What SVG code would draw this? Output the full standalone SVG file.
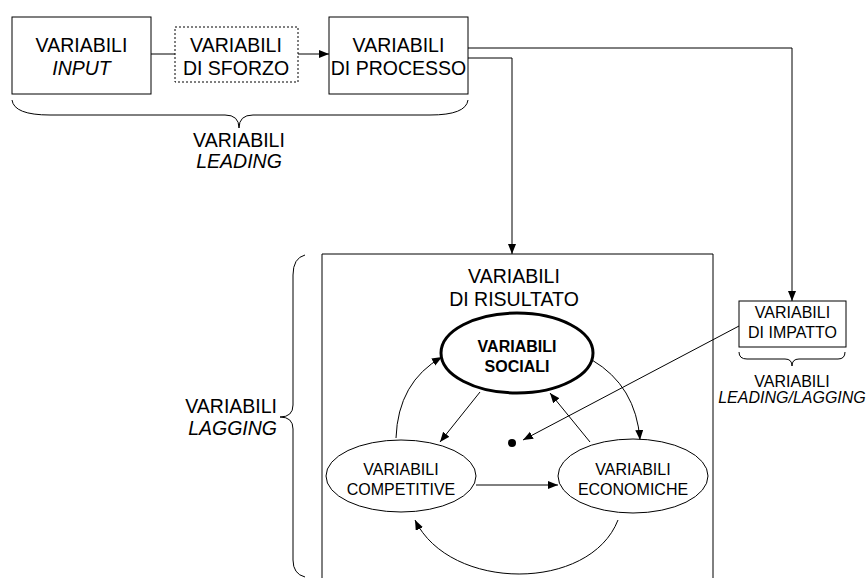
<svg xmlns="http://www.w3.org/2000/svg" width="868" height="578" viewBox="0 0 868 578">
<style>
text{font-family:"Liberation Sans",Arial,sans-serif;fill:#000;text-anchor:middle}
.big{font-size:19.5px}
.sm{font-size:16px}
.it{font-style:italic}
.b{font-weight:bold}
.box{fill:#fff;stroke:#000;stroke-width:1}
.ln{fill:none;stroke:#000;stroke-width:1}
</style>
<defs>
<marker id="ah" markerUnits="userSpaceOnUse" markerWidth="11" markerHeight="9" refX="10" refY="4" orient="auto">
<path d="M0,0 L10,4 L0,8 z" fill="#000"/>
</marker>
</defs>
<rect width="868" height="578" fill="#fff"/>

<g id="connectors">
<line class="ln" x1="151" y1="54" x2="175" y2="54"/>
<line class="ln" x1="297" y1="54" x2="329" y2="54" marker-end="url(#ah)"/>
<polyline class="ln" points="468,48 792,48 792,301" marker-end="url(#ah)"/>
<polyline class="ln" points="468,58 512,58 512,254" marker-end="url(#ah)"/>
<line class="ln" x1="739" y1="326" x2="523" y2="440" marker-end="url(#ah)"/>
<line class="ln" x1="480" y1="392" x2="440" y2="442" marker-end="url(#ah)"/>
<line class="ln" x1="590" y1="442" x2="550" y2="393" marker-end="url(#ah)"/>
<line class="ln" x1="476" y1="485" x2="558" y2="485" marker-end="url(#ah)"/>
<path class="ln" d="M396,438 Q398,382 442,357" marker-end="url(#ah)"/>
<path class="ln" d="M592,360 Q636,386 640,440" marker-end="url(#ah)"/>
<path class="ln" d="M618,520 C590,592 450,592 415,520" marker-end="url(#ah)"/>
</g>

<g id="input">
<rect class="box" x="12" y="17" width="139" height="77"/>
<text class="big" x="81.5" y="52">VARIABILI</text>
<text class="big it" x="81.5" y="75">INPUT</text>
</g>
<g id="sforzo">
<rect class="box" x="175" y="27" width="123" height="55" stroke-dasharray="2,2"/>
<text class="big" x="236" y="52">VARIABILI</text>
<text class="big" x="236" y="75">DI SFORZO</text>
</g>
<g id="processo">
<rect class="box" x="329" y="17" width="139" height="77"/>
<text class="big" x="398.5" y="52">VARIABILI</text>
<text class="big" x="398.5" y="75">DI PROCESSO</text>
</g>

<g id="leading">
<path class="ln" d="M12,100 Q14,115 50,115 L225,115 Q239,115 239,128 Q239,115 253,115 L430,115 Q466,115 468,100"/>
<text class="big" x="239" y="147">VARIABILI</text>
<text class="big it" x="239" y="168">LEADING</text>
</g>

<g id="risultato">
<path class="ln" d="M322,578 L322,254 L713,254 L713,578"/>
<text class="big" x="514" y="283">VARIABILI</text>
<text class="big" x="514" y="306">DI RISULTATO</text>
</g>

<g id="sociali">
<ellipse cx="517" cy="353" rx="76" ry="40" fill="#fff" stroke="#000" stroke-width="3"/>
<text class="sm b" x="517" y="352">VARIABILI</text>
<text class="sm b" x="517" y="372">SOCIALI</text>
</g>
<g id="competitive">
<ellipse cx="401" cy="476" rx="75" ry="36" fill="#fff" stroke="#000" stroke-width="1"/>
<text class="sm" x="401" y="475">VARIABILI</text>
<text class="sm" x="401" y="495">COMPETITIVE</text>
</g>
<g id="economiche">
<ellipse cx="633" cy="476" rx="75" ry="37" fill="#fff" stroke="#000" stroke-width="1"/>
<text class="sm" x="633" y="475">VARIABILI</text>
<text class="sm" x="633" y="495">ECONOMICHE</text>
</g>
<g id="dot">
<circle cx="512" cy="443" r="4" fill="#000"/>
</g>

<g id="impatto">
<rect class="box" x="739" y="301" width="107" height="46"/>
<text class="sm" x="792.5" y="318">VARIABILI</text>
<text class="sm" x="792.5" y="338">DI IMPATTO</text>
</g>
<g id="leadinglagging">
<path class="ln" d="M739,352 Q739,359 747,359 L785,359 Q792,359 792,366 Q792,359 799,359 L838,359 Q845,359 845,352"/>
<text class="sm" x="792" y="387">VARIABILI</text>
<text class="sm it" x="792" y="403">LEADING/LAGGING</text>
</g>

<g id="lagging">
<path class="ln" d="M305,255 Q293,258 293,275 L293,405 Q293,417 280,417 Q293,417 293,429 L293,560 Q293,574 305,577"/>
<text class="big" x="277" y="413" style="text-anchor:end">VARIABILI</text>
<text class="big it" x="277" y="435" style="text-anchor:end">LAGGING</text>
</g>
</svg>
